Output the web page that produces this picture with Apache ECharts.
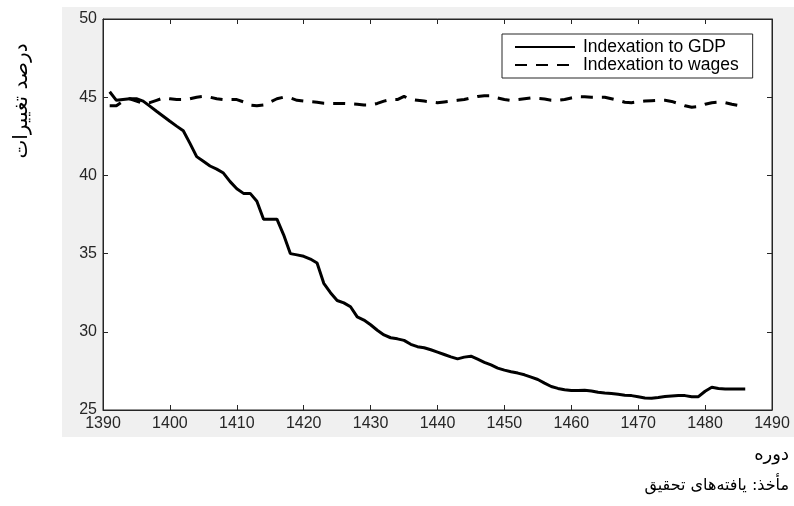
<!DOCTYPE html>
<html><head><meta charset="utf-8">
<script src="https://cdn.jsdelivr.net/npm/echarts@6/dist/echarts.min.js"></script>
<style>html,body{margin:0;padding:0;background:#fff}#c{width:794px;height:506px}</style>
</head><body><div id="c"></div>
<script>
const years = [];
for (let y = 1391; y <= 1486; y++) years.push(y);
const xTicks = [1390,1400,1410,1420,1430,1440,1450,1460,1470,1480,1490];
const yTicks = [25,30,35,40,45,50];
const seriesNames = ['Indexation to GDP', 'Indexation to wages'];
const gdp = [
45.35,44.8,44.85,44.9,44.9,44.75,44.43,44.1,43.78,43.46,
43.15,42.85,42.05,41.2,40.9,40.6,40.4,40.15,39.6,39.15,
38.85,38.85,38.35,37.2,37.2,37.2,36.2,35.0,34.92,34.83,
34.65,34.4,33.1,32.5,32.0,31.85,31.6,30.95,30.75,30.45,
30.1,29.8,29.62,29.55,29.45,29.2,29.05,28.98,28.85,28.7,
28.55,28.4,28.27,28.38,28.44,28.25,28.05,27.88,27.68,27.55,
27.45,27.36,27.25,27.1,26.95,26.72,26.5,26.38,26.3,26.25,
26.25,26.27,26.22,26.13,26.08,26.05,26.0,25.95,25.92,25.85,
25.77,25.75,25.8,25.86,25.9,25.93,25.92,25.85,25.85,26.2,
26.45,26.38,26.35,26.35,26.35,26.35];
const wages = [
44.45,44.45,44.75,44.9,44.75,44.6,44.65,44.8,44.95,44.9,
44.85,44.85,44.9,45.0,45.05,45.0,44.9,44.85,44.85,44.85,
44.7,44.5,44.45,44.5,44.7,44.9,45.0,44.95,44.8,44.75,
44.72,44.68,44.62,44.6,44.6,44.6,44.58,44.55,44.5,44.5,
44.6,44.75,44.85,44.85,45.05,44.85,44.8,44.75,44.7,44.65,
44.7,44.75,44.8,44.85,44.95,45.05,45.1,45.1,44.95,44.85,
44.8,44.85,44.9,44.95,44.92,44.88,44.8,44.8,44.85,44.95,
45.04,45.03,45.0,45.0,45.0,44.9,44.8,44.68,44.65,44.7,
44.75,44.78,44.8,44.8,44.73,44.6,44.45,44.36,44.4,44.55,
44.65,44.68,44.65,44.55,44.47,44.4];
const yName = 'درصد تغییرات';
const xName = 'دوره';
const sourceNote = 'مأخذ: یافته‌های تحقیق';

const AX = '#262626';
const chart = echarts.init(document.getElementById('c'), null, {renderer: 'canvas'});
const tickFmt = v => String(v);
const baseX = {
  type: 'value', min: xTicks[0], max: xTicks[xTicks.length-1], interval: xTicks[1]-xTicks[0],
  splitLine: {show: false},
  axisLine: {show: true, onZero: false, lineStyle: {color: AX, width: 1}},
  axisTick: {show: true, inside: true, length: 5, lineStyle: {color: AX}},
};
const baseY = {
  type: 'value', min: yTicks[0], max: yTicks[yTicks.length-1], interval: yTicks[1]-yTicks[0],
  splitLine: {show: false},
  axisLine: {show: true, onZero: false, lineStyle: {color: AX, width: 1}},
  axisTick: {show: true, inside: true, length: 5, lineStyle: {color: AX}},
};
chart.setOption({
  animation: false,
  backgroundColor: '#fff',
  textStyle: {fontFamily: 'Liberation Sans, Arial, sans-serif'},
  graphic: [
    {type: 'rect', z: -10, silent: true, shape: {x: 62, y: 7, width: 732, height: 430}, style: {fill: '#f0f0f0'}},
    {type: 'text', x: 22, y: 101, rotation: Math.PI/2, silent: true,
     style: {text: yName, fill: '#000', font: '20px "DejaVu Sans", sans-serif', align: 'center', verticalAlign: 'middle'}},
    {type: 'text', x: 789, y: 455, silent: true,
     style: {text: xName, fill: '#000', font: '18px "DejaVu Sans", sans-serif', align: 'right', verticalAlign: 'middle'}},
    {type: 'text', x: 789, y: 486, silent: true,
     style: {text: sourceNote, fill: '#000', font: '16px "DejaVu Sans", sans-serif', align: 'right', verticalAlign: 'middle'}}
  ],
  grid: {left: 103, top: 19, right: 22, bottom: 96, show: true, backgroundColor: '#fff', borderColor: AX, borderWidth: 1},
  legend: {
    orient: 'vertical', left: 502, top: 34, itemWidth: 60, itemHeight: 10, itemGap: 0,
    padding: [4, 14, 4, 12], backgroundColor: '#fff', borderColor: AX, borderWidth: 1, borderRadius: 0,
    itemStyle: {opacity: 0},
    textStyle: {fontSize: 17.5, color: '#000', padding: [0, 0, 0, 3], fontFamily: 'Liberation Sans, Arial, sans-serif'},
    data: seriesNames
  },
  xAxis: [
    Object.assign({}, baseX, {position: 'bottom', axisLabel: {show: true, color: AX, fontSize: 16, margin: 6, formatter: tickFmt}}),
    Object.assign({}, baseX, {position: 'top', axisLabel: {show: false}})
  ],
  yAxis: [
    Object.assign({}, baseY, {position: 'left', axisLabel: {show: true, color: AX, fontSize: 16, margin: 6, formatter: tickFmt}}),
    Object.assign({}, baseY, {position: 'right', axisLabel: {show: false}})
  ],
  series: [
    {name: seriesNames[0], type: 'line', symbol: 'none', xAxisIndex: 0, yAxisIndex: 0,
     lineStyle: {color: '#000', width: 3, type: 'solid'}, itemStyle: {color: '#000'},
     data: years.map((y, i) => [y, gdp[i]])},
    {name: seriesNames[1], type: 'line', symbol: 'none', xAxisIndex: 0, yAxisIndex: 0,
     lineStyle: {color: '#000', width: 3, type: [12, 9]}, itemStyle: {color: '#000'},
     data: years.map((y, i) => [y, wages[i]])}
  ]
});
</script></body></html>
